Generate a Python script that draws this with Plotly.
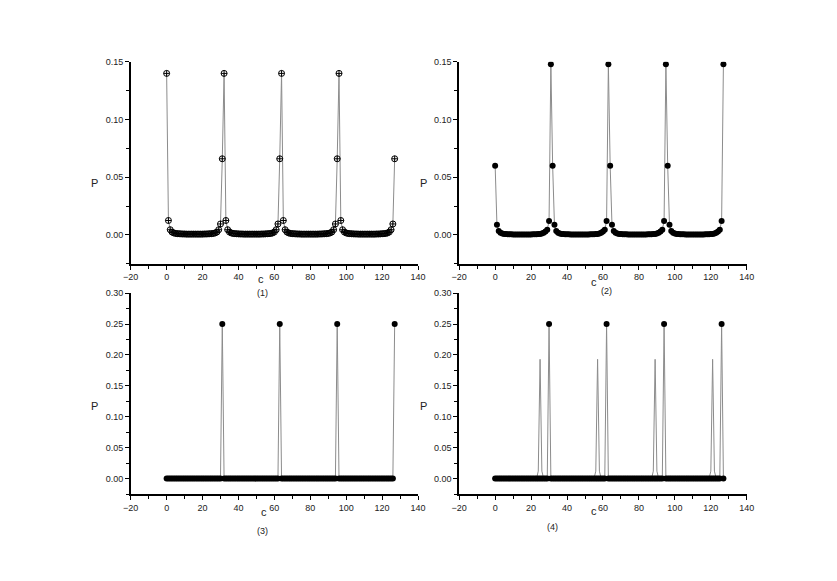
import plotly.graph_objects as go

# x positions (c = 0 .. 127)
c = list(range(128))

# (1) open crossed circles
p1 = [
    0.140, 0.0125, 0.0045, 0.0025, 0.0017, 0.0013, 0.0011, 0.0010, 0.0009, 0.0008, 0.0008, 0.0007, 0.0007, 0.0007, 0.0007, 0.0007,
    0.0007, 0.0007, 0.0007, 0.0007, 0.0007, 0.0008, 0.0008, 0.0009, 0.0010, 0.0011, 0.0013, 0.0017, 0.0025, 0.0045, 0.0095, 0.066,
    0.140, 0.0125, 0.0045, 0.0025, 0.0017, 0.0013, 0.0011, 0.0010, 0.0009, 0.0008, 0.0008, 0.0007, 0.0007, 0.0007, 0.0007, 0.0007,
    0.0007, 0.0007, 0.0007, 0.0007, 0.0007, 0.0008, 0.0008, 0.0009, 0.0010, 0.0011, 0.0013, 0.0017, 0.0025, 0.0045, 0.0095, 0.066,
    0.140, 0.0125, 0.0045, 0.0025, 0.0017, 0.0013, 0.0011, 0.0010, 0.0009, 0.0008, 0.0008, 0.0007, 0.0007, 0.0007, 0.0007, 0.0007,
    0.0007, 0.0007, 0.0007, 0.0007, 0.0007, 0.0008, 0.0008, 0.0009, 0.0010, 0.0011, 0.0013, 0.0017, 0.0025, 0.0045, 0.0095, 0.066,
    0.140, 0.0125, 0.0045, 0.0025, 0.0017, 0.0013, 0.0011, 0.0010, 0.0009, 0.0008, 0.0008, 0.0007, 0.0007, 0.0007, 0.0007, 0.0007,
    0.0007, 0.0007, 0.0007, 0.0007, 0.0007, 0.0008, 0.0008, 0.0009, 0.0010, 0.0011, 0.0013, 0.0017, 0.0025, 0.0045, 0.0095, 0.066,
]

# (2) filled circles
p2 = [
    0.060, 0.0088, 0.0035, 0.0018, 0.0012, 0.0009, 0.0007, 0.0006, 0.0005, 0.0005, 0.0004, 0.0004, 0.0004, 0.0004, 0.0004, 0.0004,
    0.0004, 0.0004, 0.0004, 0.0004, 0.0004, 0.0005, 0.0005, 0.0006, 0.0007, 0.0009, 0.0012, 0.0018, 0.0030, 0.0045, 0.0120, 0.148,
    0.060, 0.0088, 0.0035, 0.0018, 0.0012, 0.0009, 0.0007, 0.0006, 0.0005, 0.0005, 0.0004, 0.0004, 0.0004, 0.0004, 0.0004, 0.0004,
    0.0004, 0.0004, 0.0004, 0.0004, 0.0004, 0.0005, 0.0005, 0.0006, 0.0007, 0.0009, 0.0012, 0.0018, 0.0030, 0.0045, 0.0120, 0.148,
    0.060, 0.0088, 0.0035, 0.0018, 0.0012, 0.0009, 0.0007, 0.0006, 0.0005, 0.0005, 0.0004, 0.0004, 0.0004, 0.0004, 0.0004, 0.0004,
    0.0004, 0.0004, 0.0004, 0.0004, 0.0004, 0.0005, 0.0005, 0.0006, 0.0007, 0.0009, 0.0012, 0.0018, 0.0030, 0.0045, 0.0120, 0.148,
    0.060, 0.0088, 0.0035, 0.0018, 0.0012, 0.0009, 0.0007, 0.0006, 0.0005, 0.0005, 0.0004, 0.0004, 0.0004, 0.0004, 0.0004, 0.0004,
    0.0004, 0.0004, 0.0004, 0.0004, 0.0004, 0.0005, 0.0005, 0.0006, 0.0007, 0.0009, 0.0012, 0.0018, 0.0030, 0.0045, 0.0120, 0.148,
]

# (3) filled circles
p3 = [
    0, 0, 0, 0, 0, 0, 0, 0, 0, 0, 0, 0, 0, 0, 0, 0,
    0, 0, 0, 0, 0, 0, 0, 0, 0, 0, 0, 0, 0, 0, 0, 0.25,
    0, 0, 0, 0, 0, 0, 0, 0, 0, 0, 0, 0, 0, 0, 0, 0,
    0, 0, 0, 0, 0, 0, 0, 0, 0, 0, 0, 0, 0, 0, 0, 0.25,
    0, 0, 0, 0, 0, 0, 0, 0, 0, 0, 0, 0, 0, 0, 0, 0,
    0, 0, 0, 0, 0, 0, 0, 0, 0, 0, 0, 0, 0, 0, 0, 0.25,
    0, 0, 0, 0, 0, 0, 0, 0, 0, 0, 0, 0, 0, 0, 0, 0,
    0, 0, 0, 0, 0, 0, 0, 0, 0, 0, 0, 0, 0, 0, 0, 0.25,
]

# (4) filled circles
p4 = [
    0, 0, 0, 0, 0, 0, 0, 0, 0, 0, 0, 0, 0, 0, 0, 0,
    0, 0, 0, 0, 0, 0, 0, 0, 0, 0, 0, 0, 0, 0, 0.25, 0,
    0, 0, 0, 0, 0, 0, 0, 0, 0, 0, 0, 0, 0, 0, 0, 0,
    0, 0, 0, 0, 0, 0, 0, 0, 0, 0, 0, 0, 0, 0, 0.25, 0,
    0, 0, 0, 0, 0, 0, 0, 0, 0, 0, 0, 0, 0, 0, 0, 0,
    0, 0, 0, 0, 0, 0, 0, 0, 0, 0, 0, 0, 0, 0, 0.25, 0,
    0, 0, 0, 0, 0, 0, 0, 0, 0, 0, 0, 0, 0, 0, 0, 0,
    0, 0, 0, 0, 0, 0, 0, 0, 0, 0, 0, 0, 0, 0, 0.25, 0,
]

# (4) second curve, line only
p4b = [
    0, 0, 0, 0, 0, 0, 0, 0, 0, 0, 0, 0, 0, 0, 0, 0,
    0, 0, 0, 0, 0, 0, 0, 0, 0.012, 0.193, 0.012, 0, 0, 0, 0, 0,
    0, 0, 0, 0, 0, 0, 0, 0, 0, 0, 0, 0, 0, 0, 0, 0,
    0, 0, 0, 0, 0, 0, 0, 0, 0.012, 0.193, 0.012, 0, 0, 0, 0, 0,
    0, 0, 0, 0, 0, 0, 0, 0, 0, 0, 0, 0, 0, 0, 0, 0,
    0, 0, 0, 0, 0, 0, 0, 0, 0.012, 0.193, 0.012, 0, 0, 0, 0, 0,
    0, 0, 0, 0, 0, 0, 0, 0, 0, 0, 0, 0, 0, 0, 0, 0,
    0, 0, 0, 0, 0, 0, 0, 0, 0.012, 0.193, 0.012, 0, 0, 0, 0, 0,
]

# page body keeps its default 8px margin, so the figure is 16px smaller than the window
OFF = 8
W, H = 837 - 2 * OFF, 581 - 2 * OFF
LINE = dict(color="#8c8c8c", width=1)
FONT = "Liberation Sans, Arial, sans-serif"


def fx(px_):
    return (px_ - OFF) / W


def fy(py_):
    return 1 - (py_ - OFF) / H


fig = go.Figure()

fig.add_trace(go.Scatter(x=c, y=p1, mode="lines+markers", line=LINE,
                         marker=dict(symbol="circle-cross-open", size=6, color="black", line=dict(width=1, color="black")),
                         xaxis="x", yaxis="y"))
fig.add_trace(go.Scatter(x=c, y=p2, mode="lines+markers", line=LINE,
                         marker=dict(symbol="circle", size=6, color="black"),
                         xaxis="x2", yaxis="y2"))
fig.add_trace(go.Scatter(x=c, y=p3, mode="lines+markers", line=LINE,
                         marker=dict(symbol="circle", size=6, color="black"),
                         xaxis="x3", yaxis="y3"))
fig.add_trace(go.Scatter(x=c, y=p4b, mode="lines", line=LINE, xaxis="x4", yaxis="y4"))
fig.add_trace(go.Scatter(x=c, y=p4, mode="lines+markers", line=LINE,
                         marker=dict(symbol="circle", size=6, color="black"),
                         xaxis="x4", yaxis="y4"))

# window-pixel boxes of the four panels: (left, right, top, bottom)
boxes = [(125, 418, 57.3, 261), (460, 753.3, 57.3, 261),
         (125, 418, 290.7, 493.3), (460, 753.3, 290.7, 493.3)]
yranges = [[-0.025, 0.15], [-0.025, 0.15], [-0.025, 0.30], [-0.025, 0.30]]

axis_common = dict(showline=True, linecolor="black", linewidth=1.5, showgrid=False, zeroline=False,
                   ticks="outside", ticklen=4, tickwidth=1, tickcolor="black",
                   tickfont=dict(family=FONT, size=9, color="#222"))

layout = {}
for i, ((l, r, t, b), yr) in enumerate(zip(boxes, yranges)):
    sfx = "" if i == 0 else str(i + 1)
    layout["xaxis" + sfx] = dict(axis_common, domain=[fx(l), fx(r)], range=[-20, 140],
                                 tick0=0, dtick=20, anchor="y" + sfx,
                                 minor=dict(ticks="outside", ticklen=3, tickcolor="black", dtick=10, tick0=0))
    layout["yaxis" + sfx] = dict(axis_common, domain=[fy(b), fy(t)], range=yr,
                                 tick0=0, dtick=0.05, tickformat=".2f", anchor="x" + sfx,
                                 minor=dict(ticks="outside", ticklen=3, tickcolor="black", dtick=0.025, tick0=0))

fig.update_layout(**layout)

labels = [
    ("P", 88, 180, 11), ("P", 424, 180, 11), ("P", 88, 405, 11), ("P", 424, 405, 11),
    ("c", 258, 276, 11), ("c", 597, 279, 11), ("c", 261, 511, 11), ("c", 597, 510, 11),
    ("(1)", 259, 290, 9), ("(2)", 610, 288, 9), ("(3)", 259, 531, 9), ("(4)", 555, 527, 9),
]
for text, px_, py_, fs in labels:
    fig.add_annotation(text=text, x=fx(px_), y=fy(py_), xref="paper", yref="paper",
                       showarrow=False, xanchor="center", yanchor="middle",
                       font=dict(family=FONT, size=fs, color="#222"))

fig.update_layout(width=W, height=H, margin=dict(l=0, r=0, t=0, b=0),
                  paper_bgcolor="white", plot_bgcolor="white", showlegend=False)

fig.write_html("out.html")
